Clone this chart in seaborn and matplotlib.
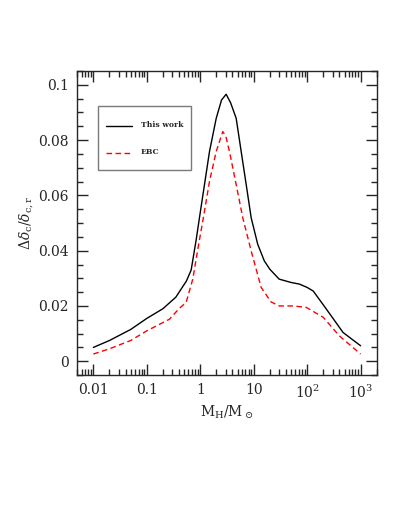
import numpy as np
import pandas as pd
import matplotlib
matplotlib.use("Agg")
import matplotlib.pyplot as plt
import seaborn as sns
from matplotlib.ticker import MultipleLocator, LogLocator, NullFormatter

# values
mass_this = [0.01, 0.02, 0.05, 0.1, 0.2, 0.35, 0.55, 0.676, 0.84, 0.966, 1.2,
             1.49, 1.99, 2.5, 3.05, 3.7, 4.7, 5.83, 7.24, 8.97, 11.9, 15.8,
             20.0, 30.0, 50.0, 72.0, 100.0, 130.0, 230.0, 470.0, 1000.0]
delta_this = [0.005, 0.0075, 0.0115, 0.0155, 0.019, 0.0232, 0.029, 0.033, 0.044,
              0.0519, 0.0639, 0.0759, 0.0879, 0.0945, 0.0966, 0.0935, 0.0879,
              0.0759, 0.0639, 0.0519, 0.0423, 0.0363, 0.0333, 0.0297, 0.0285,
              0.0279, 0.0267, 0.0254, 0.0188, 0.0104, 0.0056]

mass_ebc = [0.01, 0.02, 0.05, 0.1, 0.265, 0.4, 0.545, 0.724, 0.9, 1.2, 1.49,
            1.99, 2.64, 3.0, 3.52, 4.7, 6.25, 8.97, 13.8, 21.0, 30.0, 54.0,
            96.0, 200.0, 400.0, 1000.0]
delta_ebc = [0.0026, 0.0045, 0.0075, 0.011, 0.0152, 0.019, 0.0213, 0.0297,
             0.0405, 0.0543, 0.0651, 0.0759, 0.0831, 0.0815, 0.0759, 0.0639,
             0.0519, 0.0399, 0.0267, 0.0215, 0.020, 0.020, 0.0195, 0.0159,
             0.0092, 0.0026]

x_ticks = [0.01, 0.1, 1, 10, 100, 1000]
x_tick_labels = ["0.01", "0.1", "1", "10", r"$10^2$", r"$10^3$"]
y_ticks = [0, 0.02, 0.04, 0.06, 0.08, 0.1]
y_tick_labels = ["0", "0.02", "0.04", "0.06", "0.08", "0.1"]

sns.set_style("ticks")
plt.rcParams["font.family"] = ["DejaVu Serif"]
plt.rcParams["mathtext.fontset"] = "dejavuserif"

df = pd.concat([
    pd.DataFrame({"mass": mass_this, "delta": delta_this, "model": "This work"}),
    pd.DataFrame({"mass": mass_ebc, "delta": delta_ebc, "model": "EBC"}),
])

fig = plt.figure(figsize=(4.11, 5.32), dpi=100)
ax = fig.add_axes([0.188, 0.295, 0.7285, 0.5715])

sns.lineplot(data=df, x="mass", y="delta", hue="model", style="model",
             palette={"This work": "black", "EBC": "red"},
             dashes={"This work": "", "EBC": (4, 2.5)},
             linewidth=1.0, sort=False, estimator=None, ax=ax)
for ln in ax.get_lines():
    ln.set_solid_joinstyle("round")
    ln.set_dash_joinstyle("round")

ax.set_xscale("log")
ax.set_xlim(0.005, 2000)
ax.set_ylim(-0.005, 0.105)
ax.set_xticks(x_ticks)
ax.set_xticklabels(x_tick_labels)
ax.xaxis.set_minor_locator(LogLocator(base=10, subs=np.arange(2, 10)))
ax.xaxis.set_minor_formatter(NullFormatter())
ax.set_yticks(y_ticks)
ax.set_yticklabels(y_tick_labels)
ax.yaxis.set_minor_locator(MultipleLocator(0.005))

ax.tick_params(which="both", direction="in", top=True, right=True,
               labelsize=10, width=1.0, pad=6)
ax.tick_params(which="major", length=8)
ax.tick_params(which="minor", length=4)
for sp in ax.spines.values():
    sp.set_linewidth(1.0)

ax.set_xlabel(r"$\mathrm{M_H/M_\odot}$", fontsize=10, labelpad=2)
ax.set_ylabel(r"$\Delta\delta_{\rm c}/\delta_{\rm c,r}$", fontsize=10, labelpad=2)

leg = ax.legend(loc="upper left", bbox_to_anchor=(0.069, 0.885), frameon=True,
                fancybox=False, edgecolor="0.35", fontsize=5.5,
                handlelength=3.4, handleheight=4.0, handletextpad=1.2,
                labelspacing=0.7, borderpad=1.0, borderaxespad=0)
leg.get_frame().set_linewidth(1.0)
for t in leg.get_texts():
    t.set_fontweight("bold")
# centre the legend lines on their labels
for hl in leg.get_lines():
    hl.set_ydata(np.asarray(hl.get_ydata()) - 4.0)

fig.savefig("out.png", dpi=100)
